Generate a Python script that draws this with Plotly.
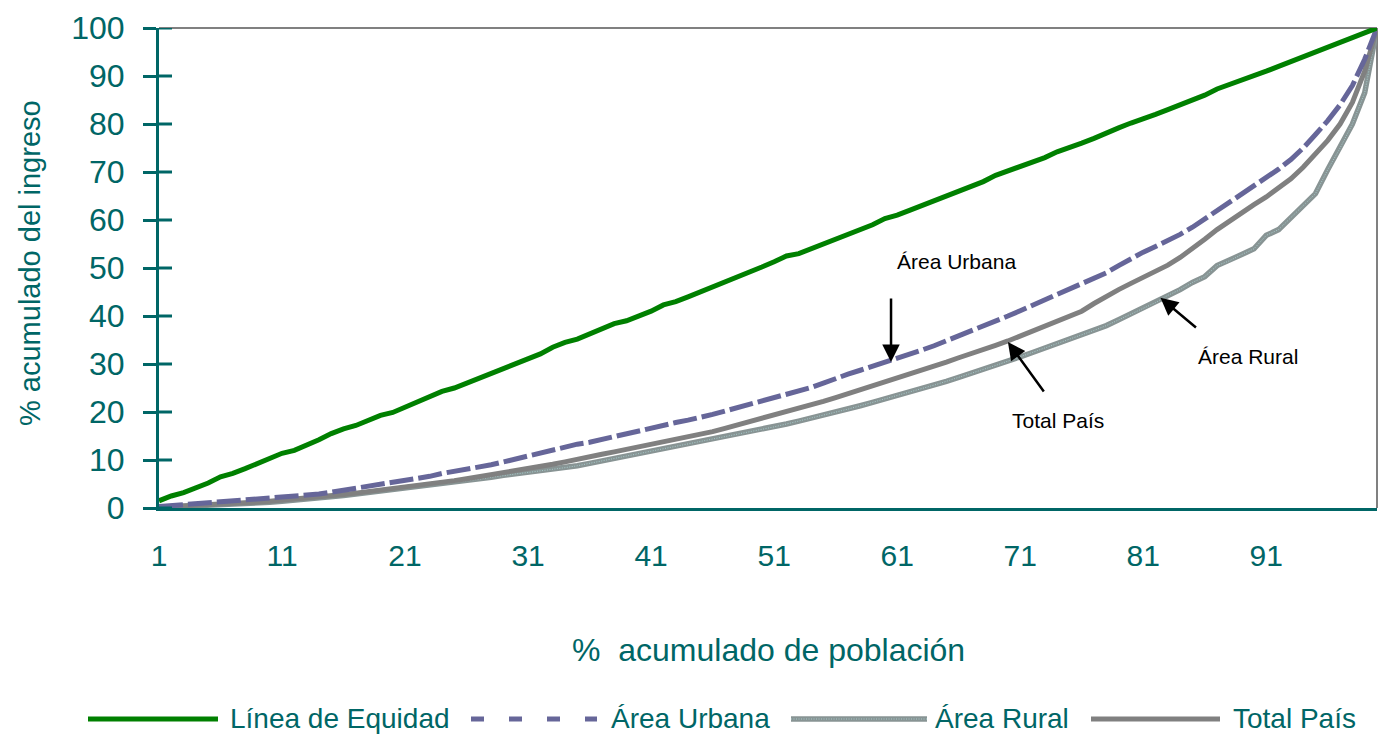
import plotly.graph_objects as go

# ---------------- data ----------------
poblacion = list(range(1, 101))

equidad = [
    1.5, 2.5, 3.2, 4.2, 5.2, 6.5, 7.2, 8.2, 9.3, 10.3,
    11.4, 12.0, 13.0, 14.2, 15.5, 16.5, 17.2, 18.2, 19.3, 19.9,
    21.0, 22.0, 23.0, 24.3, 25.0, 26.0, 27.0, 28.2, 29.0, 30.0,
    31.0, 32.1, 33.5, 34.5, 35.2, 36.2, 37.3, 38.4, 39.0, 40.0,
    41.0, 42.3, 43.0, 44.0, 45.0, 46.0, 47.2, 48.0, 49.0, 50.2,
    51.3, 52.5, 53.0, 54.0, 55.0, 56.2, 57.0, 58.0, 59.0, 60.3,
    61.0, 62.0, 63.0, 64.0, 65.2, 66.0, 67.0, 68.0, 69.3, 70.2,
    71.0, 72.0, 73.0, 74.2, 75.0, 76.0, 77.0, 78.2, 79.2, 80.2,
    81.0, 82.0, 83.0, 84.0, 85.0, 86.0, 87.3, 88.2, 89.0, 90.0,
    91.0, 92.0, 93.0, 94.0, 95.0, 96.2, 97.2, 98.0, 99.0, 100.0,
]

urbana = [
    0.3, 0.5, 0.7, 0.9, 1.0, 1.1, 1.3, 1.5, 1.7, 1.9,
    2.1, 2.3, 2.6, 2.9, 3.3, 3.7, 4.1, 4.5, 4.9, 5.3,
    5.7, 6.1, 6.6, 7.2, 7.6, 8.0, 8.5, 9.0, 9.6, 10.2,
    10.9, 11.6, 12.2, 12.8, 13.3, 13.7, 14.3, 15.0, 15.6, 16.2,
    16.8, 17.4, 17.8, 18.3, 18.8, 19.5, 20.2, 20.9, 21.5, 22.3,
    23.0, 23.7, 24.4, 25.1, 26.0, 27.0, 27.9, 28.7, 29.5, 30.3,
    31.1, 32.0, 32.9, 33.8, 34.8, 35.8, 36.9, 37.9, 38.9, 40.0,
    41.1, 42.2, 43.3, 44.4, 45.5, 46.6, 47.8, 49.0, 50.5, 52.0,
    53.3, 54.5, 55.7, 57.0, 58.5, 60.2, 62.0, 63.8, 65.5, 67.0,
    68.8, 70.6, 72.6, 75.0, 77.8, 80.7, 84.0, 88.0, 93.5, 100.0,
]

rural = [
    0.1, 0.2, 0.3, 0.4, 0.5, 0.6, 0.7, 0.9, 1.0, 1.2,
    1.4, 1.6, 1.8, 2.0, 2.3, 2.6, 2.9, 3.2, 3.5, 3.8,
    4.1, 4.4, 4.7, 5.0, 5.3, 5.6, 6.0, 6.4, 6.8, 7.1,
    7.4, 7.7, 8.0, 8.4, 8.8, 9.3, 9.8, 10.3, 10.8, 11.3,
    11.8, 12.3, 12.8, 13.3, 13.8, 14.3, 14.8, 15.3, 15.8, 16.3,
    16.9, 17.5, 18.1, 18.7, 19.3, 19.9, 20.6, 21.3, 22.0, 22.7,
    23.4, 24.1, 24.8, 25.6, 26.4, 27.2, 28.0, 28.8, 29.7, 30.6,
    31.5, 32.4, 33.3, 34.2, 35.1, 36.0, 37.0, 38.0, 39.2, 40.4,
    41.6, 42.8, 44.3, 45.5, 47.0, 48.2, 50.5, 51.5, 52.8, 54.0,
    56.8, 58.0, 60.5, 63.0, 65.5, 70.5, 75.0, 80.0, 86.5, 100.0,
]

total = [
    0.2, 0.3, 0.4, 0.5, 0.6, 0.7, 0.9, 1.0, 1.2, 1.4,
    1.6, 1.8, 2.0, 2.2, 2.5, 2.8, 3.1, 3.4, 3.7, 4.0,
    4.3, 4.6, 5.0, 5.4, 5.7, 6.1, 6.5, 6.9, 7.3, 7.7,
    8.1, 8.6, 9.1, 9.6, 10.2, 10.8, 11.2, 11.7, 12.2, 12.7,
    13.3, 13.9, 14.4, 14.8, 15.3, 15.9, 16.6, 17.3, 18.0, 18.6,
    19.2, 19.9, 20.7, 21.5, 22.2, 23.0, 23.8, 24.6, 25.4, 26.3,
    27.2, 28.0, 28.7, 29.5, 30.4, 31.3, 32.1, 33.0, 33.9, 34.8,
    35.8, 36.8, 37.8, 38.8, 39.8, 41.0, 42.6, 44.2, 45.5, 46.8,
    48.0, 49.3, 50.6, 52.2, 54.0, 56.0, 58.0, 59.8, 61.5, 63.2,
    64.8, 66.6, 68.6, 71.0, 73.8, 76.6, 80.0, 84.5, 91.0, 100.0,
]

x_ticks = [1, 11, 21, 31, 41, 51, 61, 71, 81, 91]
y_ticks = [0, 10, 20, 30, 40, 50, 60, 70, 80, 90, 100]

series_names = ["Línea de Equidad", "Área Urbana", "Área Rural", "Total País"]

# ---------------- style ----------------
TEAL = "#006666"
GREEN = "#008000"
URBAN = "#666699"
GRAY = "#808080"
RURAL = "#889494"
RURAL_HATCH = "rgba(175,220,220,0.75)"
FONT = "Liberation Sans, Arial, sans-serif"

W, H = 1378, 734
L, R, T, B = 159, 1, 28, 226
PW, PH = W - L - R, H - T - B


def px2x(px):
    return (px - L) / PW


def py2y(py):
    return (H - B - py) / PH


fig = go.Figure()
fig.add_trace(go.Scatter(x=poblacion, y=rural, mode="lines", name=series_names[2],
                         line=dict(color=RURAL, width=5.5), showlegend=False))
fig.add_trace(go.Scatter(x=poblacion, y=rural, mode="lines", hoverinfo="skip",
                         line=dict(color=RURAL_HATCH, width=1, dash="1px,1.5px"),
                         showlegend=False))
fig.add_trace(go.Scatter(x=poblacion, y=total, mode="lines", name=series_names[3],
                         line=dict(color=GRAY, width=5), showlegend=False))
fig.add_trace(go.Scatter(x=poblacion, y=urbana, mode="lines", name=series_names[1],
                         line=dict(color=URBAN, width=5, dash="24px,5px"), showlegend=False))
fig.add_trace(go.Scatter(x=poblacion, y=equidad, mode="lines", name=series_names[0],
                         line=dict(color=GREEN, width=5), showlegend=False))

shapes = []
# gray border top and right
shapes.append(dict(type="line", xref="paper", yref="paper", x0=0, x1=1, y0=1, y1=1,
                   line=dict(color=GRAY, width=2), layer="below"))
shapes.append(dict(type="line", xref="paper", yref="paper", x0=1, x1=1, y0=0, y1=1,
                   line=dict(color=GRAY, width=2), layer="below"))
# inner half of crossing y ticks
for v in y_ticks:
    shapes.append(dict(type="line", xref="paper", yref="y", x0=0, x1=13 / PW, y0=v, y1=v,
                       line=dict(color=TEAL, width=3)))

# manual legend
leg_y = py2y(719)
legend_items = [
    (series_names[0], 88, 218, 228, dict(color=GREEN, width=5)),
    (series_names[1], 471, 597, 609, dict(color=URBAN, width=5, dash="13px,25px")),
    (series_names[2], 791, 927, 933, dict(color=RURAL, width=5.5)),
    (series_names[3], 1091, 1220, 1231, dict(color=GRAY, width=5)),
]
annotations = []
for name, x0, x1, xt, ln in legend_items:
    shapes.append(dict(type="line", xref="paper", yref="paper", x0=px2x(x0), x1=px2x(x1),
                       y0=leg_y, y1=leg_y, line=ln))
    annotations.append(dict(xref="paper", yref="paper", x=px2x(xt), y=py2y(718), text=name,
                            showarrow=False, xanchor="left", yanchor="middle",
                            font=dict(family=FONT, size=28, color=TEAL)))
shapes.append(dict(type="line", xref="paper", yref="paper", x0=px2x(791), x1=px2x(927),
                   y0=leg_y, y1=leg_y,
                   line=dict(color=RURAL_HATCH, width=1, dash="1px,1.5px")))

# axis titles
annotations.append(dict(xref="paper", yref="paper", x=px2x(768), y=py2y(650),
                        text="%  acumulado de población", showarrow=False,
                        xanchor="center", yanchor="middle",
                        font=dict(family=FONT, size=32, color=TEAL)))
annotations.append(dict(xref="paper", yref="paper", x=px2x(30), y=py2y(263),
                        text="% acumulado del ingreso", showarrow=False, textangle=-90,
                        xanchor="center", yanchor="middle",
                        font=dict(family=FONT, size=29, color=TEAL)))

# callouts
lab_font = dict(family=FONT, size=21, color="black")
annotations += [
    dict(x=65.8, y=51.3, text="Área Urbana", showarrow=False, font=lab_font),
    dict(x=74.1, y=18.3, text="Total País", showarrow=False, font=lab_font),
    dict(x=89.5, y=31.5, text="Área Rural", showarrow=False, font=lab_font),
    dict(x=60.5, y=30.4, text="", showarrow=True, ax=0, ay=-65, arrowhead=2,
         arrowsize=1.4, arrowwidth=2.5, arrowcolor="black"),
    dict(x=70.0, y=34.6, text="", showarrow=True, ax=37, ay=51, arrowhead=2,
         arrowsize=1.4, arrowwidth=2.5, arrowcolor="black"),
    dict(x=82.4, y=43.8, text="", showarrow=True, ax=37, ay=31, arrowhead=2,
         arrowsize=1.4, arrowwidth=2.5, arrowcolor="black"),
]

fig.update_layout(
    width=W, height=H,
    margin=dict(l=L, r=R, t=T, b=B, pad=0),
    paper_bgcolor="white", plot_bgcolor="white",
    showlegend=False,
    shapes=shapes, annotations=annotations,
    font=dict(family=FONT, color=TEAL),
    xaxis=dict(range=[1, 100], tickvals=x_ticks, ticktext=[str(v) for v in x_ticks],
               showgrid=False, zeroline=False, showline=True, linecolor=TEAL, linewidth=3,
               ticks="", ticklabelstandoff=19,
               tickfont=dict(family=FONT, size=30, color=TEAL)),
    yaxis=dict(range=[0, 100], tickvals=y_ticks, showgrid=False, zeroline=False,
               showline=True, linecolor=TEAL, linewidth=3,
               ticks="outside", ticklen=13, tickwidth=3, tickcolor=TEAL,
               ticklabelstandoff=12,
               tickfont=dict(family=FONT, size=32, color=TEAL)),
)

fig.write_html("out.html", config={"displayModeBar": False},
               post_script="document.body.style.margin='0';document.body.style.overflow='hidden';")
